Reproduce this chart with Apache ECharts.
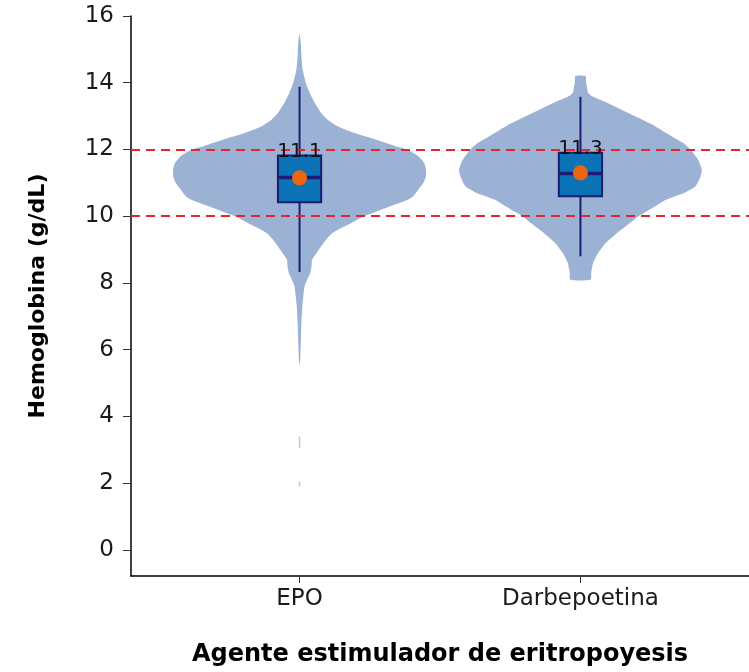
<!DOCTYPE html>
<html>
<head>
<meta charset="utf-8">
<script src="https://cdn.jsdelivr.net/npm/echarts@6/dist/echarts.min.js"></script>
<style>
  html, body { margin: 0; padding: 0; background: #fff; }
  #chart { width: 749px; height: 672px; }
</style>
</head>
<body>
<div id="chart"></div>
<script>
// ==================== data ====================
const categories = ['EPO', 'Darbepoetina'];
const yTicks = [0, 2, 4, 6, 8, 10, 12, 14, 16];
const refLines = [10, 12];

// violin outlines: hemoglobin value and relative half-width (1 = widest)
const epoViolinY = [15.5, 15.2, 14.8, 14.4, 14.0, 13.7, 13.4, 13.1, 12.9, 12.7, 12.5, 12.3, 12.1, 12.0, 11.8, 11.6, 11.4, 11.2, 11.0, 10.8, 10.6, 10.5, 10.3, 10.1, 10.0, 9.8, 9.5, 9.2, 8.9, 8.7, 8.5, 8.3, 8.1, 7.9, 7.6, 7.3, 6.8, 6.2, 5.7, 5.5];
const epoViolinW = [0, 0.01, 0.015, 0.025, 0.05, 0.08, 0.12, 0.17, 0.22, 0.3, 0.43, 0.6, 0.76, 0.85, 0.94, 0.985, 1.0, 1.0, 0.98, 0.94, 0.9, 0.86, 0.72, 0.58, 0.51, 0.41, 0.26, 0.19, 0.135, 0.1, 0.095, 0.085, 0.06, 0.04, 0.03, 0.022, 0.015, 0.01, 0.005, 0];
const epoTailRanges = [[3.05, 3.4], [1.9, 2.05]];

const darbeViolinY = [14.2, 14.0, 13.8, 13.7, 13.6, 13.4, 13.2, 13.0, 12.7, 12.4, 12.2, 12.0, 11.7, 11.4, 11.2, 10.9, 10.7, 10.5, 10.2, 10.0, 9.7, 9.5, 9.2, 8.9, 8.6, 8.3, 8.1];
const darbeViolinW = [0.04, 0.045, 0.055, 0.06, 0.09, 0.21, 0.32, 0.43, 0.59, 0.72, 0.81, 0.87, 0.93, 0.96, 0.95, 0.91, 0.82, 0.68, 0.55, 0.46, 0.36, 0.29, 0.2, 0.14, 0.1, 0.085, 0.08];

// box stats: whisker low, q1, median, q3, whisker high
const epoBox = [8.33, 10.42, 11.16, 11.82, 13.88];
const darbeBox = [8.8, 10.6, 11.28, 11.9, 13.58];
const means = [11.15, 11.3];
const meanLabels = ['11.1', '11.3'];

// ==================== chart ====================
const violinColor = '#9cb2d5';
const boxColor = '#0c72b6';
const navy = '#1b1b72';
const maxHalf = 0.45;
const boxHalf = 0.077;

const violins = [
    { y: epoViolinY, w: epoViolinW },
    { y: darbeViolinY, w: darbeViolinW },
];
const boxes = [epoBox, darbeBox];

function renderViolin(params, api) {
    const i = params.dataIndex;
    const v = violins[i];
    const pos = i + 1;
    const right = v.y.map((y, k) => api.coord([pos + v.w[k] * maxHalf, y]));
    const left = v.y.map((y, k) => api.coord([pos - v.w[k] * maxHalf, y])).reverse();
    const children = [{
        type: 'polygon',
        shape: { points: right.concat(left), smooth: 0.2 },
        style: { fill: violinColor },
    }];
    // stray low values below the EPO violin
    if (i === 0) {
        epoTailRanges.forEach(r => {
            const a = api.coord([pos, r[0]]);
            const b = api.coord([pos, r[1]]);
            children.push({
                type: 'line',
                shape: { x1: a[0], y1: a[1], x2: b[0], y2: b[1] },
                style: { stroke: '#c3cadf', lineWidth: 1.5 },
            });
        });
    }
    return { type: 'group', children };
}

function renderBox(params, api) {
    const i = params.dataIndex;
    const b = boxes[i];
    const pos = i + 1;
    const lo = api.coord([pos, b[0]]);
    const hi = api.coord([pos, b[4]]);
    const q1 = api.coord([pos - boxHalf, b[1]]);
    const q3 = api.coord([pos + boxHalf, b[3]]);
    const medL = api.coord([pos - boxHalf, b[2]]);
    const medR = api.coord([pos + boxHalf, b[2]]);
    return {
        type: 'group',
        children: [
            {
                type: 'line',
                shape: { x1: lo[0], y1: lo[1], x2: hi[0], y2: hi[1] },
                style: { stroke: navy, lineWidth: 2 },
            },
            {
                type: 'rect',
                shape: { x: q1[0], y: q3[1], width: q3[0] - q1[0], height: q1[1] - q3[1] },
                style: { fill: boxColor, stroke: navy, lineWidth: 2 },
            },
            {
                type: 'line',
                shape: { x1: medL[0], y1: medL[1], x2: medR[0], y2: medR[1] },
                style: { stroke: navy, lineWidth: 3.5 },
            },
        ],
    };
}

function renderLabel(params, api) {
    const i = params.dataIndex;
    const p = api.coord([i + 1, boxes[i][3]]);
    return {
        type: 'text',
        x: p[0],
        y: p[1] - 4,
        style: {
            text: meanLabels[i],
            fill: '#111',
            font: '20px "DejaVu Sans"',
            align: 'center',
            verticalAlign: 'middle',
        },
    };
}

const chart = echarts.init(document.getElementById('chart'), null, { renderer: 'canvas' });

chart.setOption({
    backgroundColor: '#fff',
    animation: false,
    grid: { left: 131, right: -2, top: 16, bottom: 94 },
    xAxis: {
        type: 'value',
        min: 0.4,
        max: 2.6,
        name: 'Agente estimulador de eritropoyesis',
        nameLocation: 'middle',
        nameGap: 67,
        nameTextStyle: { fontFamily: 'DejaVu Sans', fontWeight: 'bold', fontSize: 24, color: '#000' },
        axisLine: { onZero: false, lineStyle: { color: '#000', width: 1.5 } },
        axisTick: { customValues: [1, 2], length: 7, lineStyle: { color: '#333' } },
        axisLabel: {
            customValues: [1, 2],
            formatter: v => categories[Math.round(v) - 1],
            fontFamily: 'DejaVu Sans',
            fontSize: 23,
            color: '#1a1a1a',
            margin: 12,
        },
        splitLine: { show: false },
    },
    yAxis: {
        type: 'value',
        min: -0.78,
        max: 16,
        name: 'Hemoglobina (g/dL)',
        nameLocation: 'middle',
        nameGap: 82,
        nameTextStyle: { fontFamily: 'DejaVu Sans', fontWeight: 'bold', fontSize: 22, color: '#000' },
        axisLine: { show: true, onZero: false, lineStyle: { color: '#000', width: 1.5 } },
        axisTick: { show: true, customValues: yTicks, length: 8, lineStyle: { color: '#333' } },
        axisLabel: {
            customValues: yTicks,
            fontFamily: 'DejaVu Sans',
            fontSize: 23,
            color: '#1a1a1a',
            margin: 17,
        },
        splitLine: { show: false },
    },
    series: [
        {
            type: 'custom',
            name: 'violin',
            renderItem: renderViolin,
            data: [[1], [2]],
            z: 1,
            silent: true,
            markLine: {
                silent: true,
                symbol: 'none',
                label: { show: false },
                lineStyle: { color: '#e3262b', width: 2, type: [9, 6] },
                data: refLines.map(v => ({ yAxis: v })),
            },
        },
        {
            type: 'custom',
            name: 'box',
            renderItem: renderBox,
            data: [[1], [2]],
            z: 3,
            silent: true,
        },
        {
            type: 'scatter',
            name: 'media',
            data: means.map((m, i) => [i + 1, m]),
            symbolSize: 15,
            itemStyle: { color: '#ec6610', opacity: 1 },
            z: 4,
            silent: true,
        },
        {
            type: 'custom',
            name: 'label',
            renderItem: renderLabel,
            data: [[1], [2]],
            z: 5,
            silent: true,
        },
    ],
});
</script>
</body>
</html>
